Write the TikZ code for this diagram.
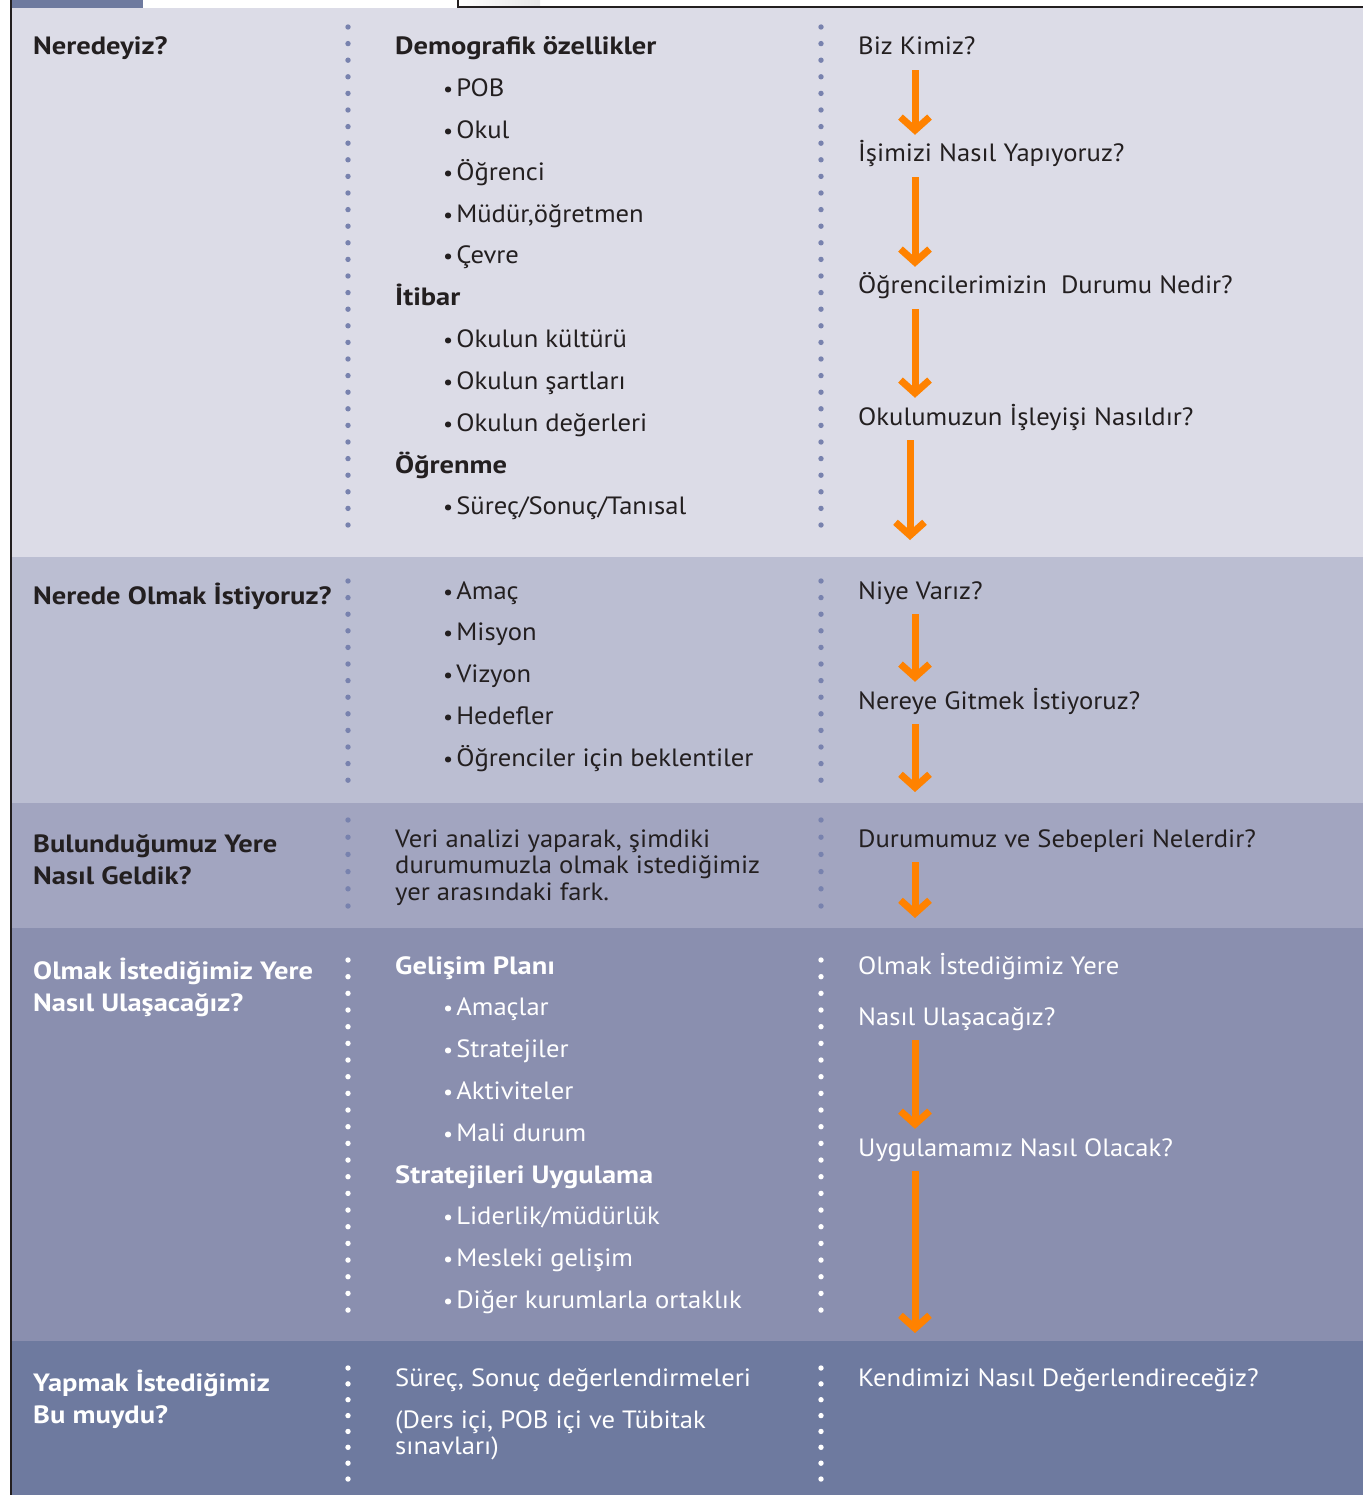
\documentclass[tikz,border=0pt]{standalone}
\usepackage{fontspec}
\setmainfont{PT Sans}[FakeStretch=1.065,BoldFeatures={FakeStretch=1.14}]
\usetikzlibrary{arrows.meta,positioning}

\definecolor{bandA}{HTML}{DCDCE7}
\definecolor{bandB}{HTML}{BBBED2}
\definecolor{bandC}{HTML}{A2A5C0}
\definecolor{bandD}{HTML}{8A8FAF}
\definecolor{bandE}{HTML}{6E7A9F}
\definecolor{dotblue}{HTML}{7882AE}
\definecolor{ink}{HTML}{231F20}
\definecolor{arrorange}{HTML}{FF8200}

\newcommand{\bul}{{\fontsize{21}{21}\selectfont•}\hspace{3pt}}

\begin{document}
\begin{tikzpicture}[x=1pt,y=-1pt,node distance=17.4pt,
    flow/.style={draw=arrorange,line width=7pt,
      -{Straight Barb[length=13pt,width=29pt,sharp]},
      shorten <=9pt,shorten >=9pt}]
\tikzstyle{every node}=[inner sep=0pt,anchor=base west,text=ink,
  font=\fontsize{25}{28}\selectfont]
\tikzstyle{txt}=[text height=18pt,text depth=6pt]
\tikzstyle{bold}=[font=\bfseries\fontsize{25}{32}\selectfont]
\tikzstyle{two}=[align=left]
\tikzstyle{light}=[text=white]

\useasboundingbox (0,0) rectangle (1363,1495);

% bands
\fill[bandA] (12,8) rectangle (1363,557);
\fill[bandB] (12,557) rectangle (1363,803);
\fill[bandC] (12,803) rectangle (1363,928);
\fill[bandD] (12,928) rectangle (1363,1341);
\fill[bandE] (12,1341) rectangle (1363,1495);

% top edge and left frame
\fill[bandE] (11,0) rectangle (143,8);
\shade[left color=white,right color=black!10] (458,0) rectangle (540,7);
\draw[ink,line width=2pt] (458,0) -- (458,7) -- (1363,7);
\draw[ink,line width=2.3pt] (11,0) -- (11,1495);

% dotted separators
\foreach \top/\n/\st/\c in {27/30/16.6/dotblue,581/12/16.6/dotblue,
    820/5/17.2/dotblue,960/21/16.67/white,1368/7/15.86/white}{
  \foreach \i in {0,...,\n}{
    \fill[\c] (348,{\top+\st*\i}) circle (2.7pt);
    \fill[\c] (821,{\top+\st*\i}) circle (2.7pt);
  }
}

% left column
\node[bold] (nd1) at (33,55) {Neredeyiz?};
\node[bold] (nd2) at (33,604) {Nerede Olmak İstiyoruz?};
\node[bold,two] (nd3) at (33,884) {Bulunduğumuz Yere\\Nasıl Geldik?};
\node[bold,two,light] (nd4) at (33,1011) {Olmak İstediğimiz Yere\\Nasıl Ulaşacağız?};
\node[bold,two,light] (nd5) at (33,1423) {Yapmak İstediğimiz\\Bu muydu?};

% middle column, band 1
\node[txt,bold] (demo) at (395,55) {Demografik özellikler};
\node[txt] (pob) [below=of demo.south west,anchor=north west,xshift=48pt] {\bul POB};
\node[txt] (okul) [below=of pob.south west,anchor=north west] {\bul Okul};
\node[txt] (ogr) [below=of okul.south west,anchor=north west] {\bul Öğrenci};
\node[txt] (mud) [below=of ogr.south west,anchor=north west] {\bul Müdür,öğretmen};
\node[txt] (cevre) [below=of mud.south west,anchor=north west] {\bul Çevre};
\node[txt,bold] (itibar) [below=of cevre.south west,anchor=north west,xshift=-48pt] {İtibar};
\node[txt] (kultur) [below=of itibar.south west,anchor=north west,xshift=48pt] {\bul Okulun kültürü};
\node[txt] (sart) [below=of kultur.south west,anchor=north west] {\bul Okulun şartları};
\node[txt] (deger) [below=of sart.south west,anchor=north west] {\bul Okulun değerleri};
\node[txt,bold] (ogrenme) [below=of deger.south west,anchor=north west,xshift=-48pt] {Öğrenme};
\node[txt] (surec) [below=of ogrenme.south west,anchor=north west,xshift=48pt] {\bul Süreç/Sonuç/Tanısal};

% middle column, band 2
\node[txt] (amac) at (443,599) {\bul Amaç};
\node[txt] (misyon) [below=of amac.south west,anchor=north west] {\bul Misyon};
\node[txt] (vizyon) [below=of misyon.south west,anchor=north west] {\bul Vizyon};
\node[txt] (hedef) [below=of vizyon.south west,anchor=north west] {\bul Hedefler};
\node[txt] (bekl) [below=of hedef.south west,anchor=north west] {\bul Öğrenciler için beklentiler};

% middle column, band 3
\node[two,font=\fontsize{25}{26.5}\selectfont] (veri) at (395,900)
  {Veri analizi yaparak, şimdiki\\durumumuzla olmak istediğimiz\\yer arasındaki fark.};

% middle column, band 4
\node[txt,bold,light] (gelisim) at (395,974) {Gelişim Planı};
\node[txt,light] (amaclar) [below=of gelisim.south west,anchor=north west,xshift=48pt] {\bul Amaçlar};
\node[txt,light] (strat) [below=of amaclar.south west,anchor=north west] {\bul Stratejiler};
\node[txt,light] (aktiv) [below=of strat.south west,anchor=north west] {\bul Aktiviteler};
\node[txt,light] (mali) [below=of aktiv.south west,anchor=north west] {\bul Mali durum};
\node[txt,bold,light] (uygula) [below=of mali.south west,anchor=north west,xshift=-48pt] {Stratejileri Uygulama};
\node[txt,light] (lider) [below=of uygula.south west,anchor=north west,xshift=48pt] {\bul Liderlik/müdürlük};
\node[txt,light] (mesleki) [below=of lider.south west,anchor=north west] {\bul Mesleki gelişim};
\node[txt,light] (ortak) [below=of mesleki.south west,anchor=north west] {\bul Diğer kurumlarla ortaklık};

% middle column, band 5
\node[txt,light] (deg) at (395,1386) {Süreç, Sonuç değerlendirmeleri};
\node[two,light,font=\fontsize{25}{26}\selectfont] (ders) at (395,1454)
  {(Ders içi, POB içi ve Tübitak\\sınavları)};

% right column
\node[txt] (q1) at (858,55) {Biz Kimiz?};
\node[txt] (q2) at (858,162) {İşimizi Nasıl Yapıyoruz?};
\node[txt] (q3) at (858,294) {Öğrencilerimizin\ \ Durumu Nedir?};
\node[txt] (q4) at (858,425) {Okulumuzun İşleyişi Nasıldır?};
\node[txt] (q5) at (858,599) {Niye Varız?};
\node[txt] (q6) at (858,709) {Nereye Gitmek İstiyoruz?};
\node[txt] (q7) at (858,847) {Durumumuz ve Sebepleri Nelerdir?};
\node[txt,light] (q8) at (858,974) {Olmak İstediğimiz Yere};
\node[txt,light] (q9) at (858,1025) {Nasıl Ulaşacağız?};
\node[txt,light] (q10) at (858,1156) {Uygulamamız Nasıl Olacak?};
\node[txt,light] (q11) at (858,1386) {Kendimizi Nasıl Değerlendireceğiz?};

% arrows
\coordinate (ax) at (915,0);
\coordinate (bx) at (910,0);
\coordinate (e1) at (910,540);
\coordinate (e2) at (915,792);
\coordinate (e3) at (915,918);
\coordinate (e4) at (915,1333);
\draw[flow] (q1.south -| ax) -- (q2.north -| ax);
\draw[flow] (q2.south -| ax) -- (q3.north -| ax);
\draw[flow] (q3.south -| ax) -- (q4.north -| ax);
\draw[flow,shorten >=0pt] (q4.south -| bx) -- (e1);
\draw[flow] (q5.south -| ax) -- (q6.north -| ax);
\draw[flow,shorten >=0pt] (q6.south -| ax) -- (e2);
\draw[flow,shorten >=0pt] (q7.south -| ax) -- (e3);
\draw[flow] (q9.south -| ax) -- (q10.north -| ax);
\draw[flow,shorten >=0pt] (q10.south -| ax) -- (e4);
\end{tikzpicture}
\end{document}
